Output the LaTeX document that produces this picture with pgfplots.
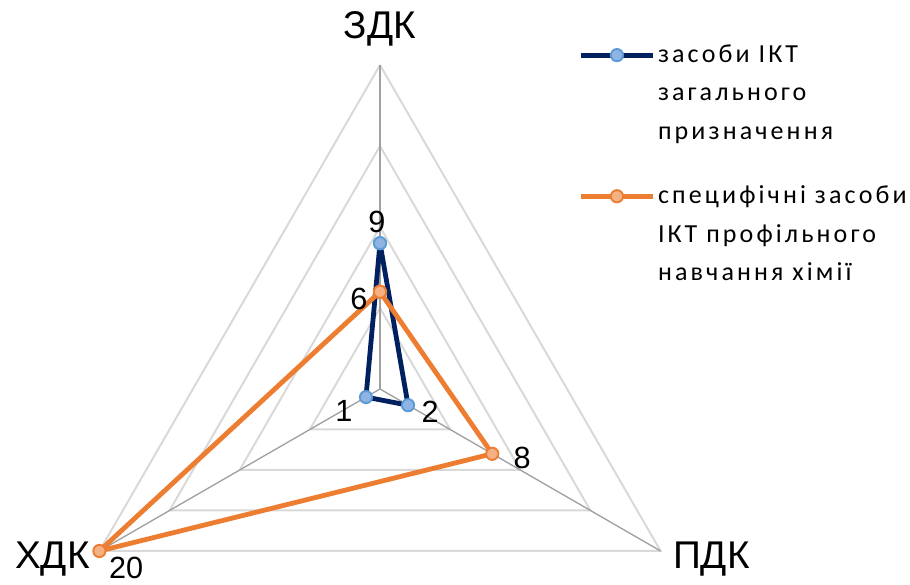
\documentclass[border=0pt]{standalone}
\usepackage{fontspec}
\setmainfont{Liberation Sans}
\newfontfamily\legfont[LetterSpace=12]{Carlito}
\usepackage{pgfplots}
\pgfplotsset{compat=1.18}
\usepgfplotslibrary{polar}
\usepackage{pgfplotstable}

\definecolor{navy}{RGB}{0,32,96}
\definecolor{navymark}{RGB}{143,180,227}
\definecolor{navymarkline}{RGB}{91,155,213}
\definecolor{orng}{RGB}{237,125,49}
\definecolor{orngmark}{RGB}{244,177,131}
\definecolor{gridgray}{RGB}{217,217,217}
\definecolor{spokegray}{RGB}{160,160,160}

% angle radius label, label offset dx dy (pt)  (ЗДК = 90, ПДК = 330, ХДК = 210)
\pgfplotstableread{
a r lab dx dy
90 9 9 -2.25 16.1
330 2 2 16.5 -5.25
210 1 1 -16.5 -10.5
90 9 {} 0 0
}\generaltab
\pgfplotstableread{
a r lab dx dy
90 6 6 -15.75 -5.25
330 8 8 22.5 -3
210 20 20 20 -12.5
90 6 {} 0 0
}\specifictab

\newcommand\lblfont{\fontsize{23pt}{26pt}\selectfont}

\begin{document}
\begin{tikzpicture}
\begin{polaraxis}[
    width=486pt, height=486pt,
    scale only axis,
    hide axis,
    clip=false,
    xmin=0, xmax=360,
    ymin=0, ymax=20,
    legend cell align=left,
    legend style={
        at={(axis description cs:0.806,1.036)}, anchor=north west,
        draw=none, fill=none,
        font=\legfont\fontsize{19.5pt}{29pt}\selectfont,
        cells={align=left},
        row sep=29pt,
        inner xsep=0pt, inner ysep=0pt,
    },
    legend image code/.code={
        \draw[mark repeat=2, mark phase=2, yshift=28.5pt]
            plot coordinates {(0pt,0pt) (27pt,0pt) (54pt,0pt)};
    },
]
% grid triangles
\addplot[gridgray, line width=1.5pt, forget plot] coordinates {(90,5) (210,5) (330,5) (90,5)};
\addplot[gridgray, line width=1.5pt, forget plot] coordinates {(90,10) (210,10) (330,10) (90,10)};
\addplot[gridgray, line width=1.5pt, forget plot] coordinates {(90,15) (210,15) (330,15) (90,15)};
\addplot[gridgray, line width=1.5pt, forget plot] coordinates {(90,20) (210,20) (330,20) (90,20)};
% spokes
\addplot[spokegray, line width=1pt, forget plot] coordinates {(90,0) (90,20)};
\addplot[spokegray, line width=1pt, forget plot] coordinates {(210,0) (210,20)};
\addplot[spokegray, line width=1pt, forget plot] coordinates {(330,0) (330,20)};

\addplot[navy, line width=3.6pt, line join=round,
    mark=*, mark size=4.6pt,
    mark options={fill=navymark, draw=navymarkline, line width=1.4pt},
    nodes near coords, point meta=explicit symbolic,
    visualization depends on={\thisrow{dx} \as \dx},
    visualization depends on={\thisrow{dy} \as \dy},
    nodes near coords style={font=\lblfont, text=black, inner sep=0pt,
        anchor=center, xshift=\dx pt, yshift=\dy pt},
] table[x=a, y=r, meta=lab] {\generaltab};
\addlegendentry{засоби ІКТ\\загального\\призначення}

\addplot[orng, line width=3.6pt, line join=round,
    mark=*, mark size=4.6pt,
    mark options={fill=orngmark, draw=orng, line width=1.4pt},
    nodes near coords, point meta=explicit symbolic,
    visualization depends on={\thisrow{dx} \as \dx},
    visualization depends on={\thisrow{dy} \as \dy},
    nodes near coords style={font=\lblfont, text=black, inner sep=0pt,
        anchor=center, xshift=\dx pt, yshift=\dy pt},
] table[x=a, y=r, meta=lab] {\specifictab};
\addlegendentry{специфічні засоби\\ІКТ профільного\\навчання хімії}

\coordinate (c) at (axis cs:0,0);
\node[font=\fontsize{29pt}{34pt}\selectfont] at (axis cs:90,22.2) {ЗДК};
\node[font=\fontsize{29pt}{34pt}\selectfont] at (axis cs:207.5,22.8) {ХДК};
\node[font=\fontsize{29pt}{34pt}\selectfont] at (axis cs:332.8,23.0) {ПДК};
\end{polaraxis}
\pgfresetboundingbox
\path[use as bounding box] ([shift={(-285pt,-147pt)}]c) rectangle ([shift={(397.5pt,291.75pt)}]c);
\end{tikzpicture}
\end{document}
